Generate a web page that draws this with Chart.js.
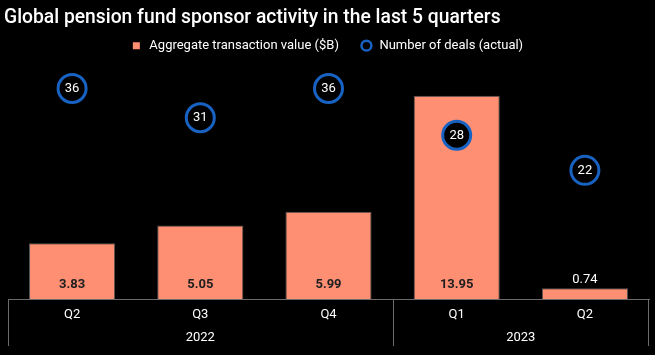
<!DOCTYPE html>
<html>
<head>
<meta charset="utf-8">
<script src="https://cdn.jsdelivr.net/npm/chart.js@4"></script>
<style>
  html, body { margin: 0; padding: 0; background: #000; }
  #wrap { width: 655px; height: 355px; }
</style>
</head>
<body>
<div id="wrap"><canvas id="c" width="655" height="355"></canvas></div>
<script>
const categories = ['Q2', 'Q3', 'Q4', 'Q1', 'Q2'];
const years = ['2022', '2022', '2022', '2023', '2023'];
const transactionValue = [3.83, 5.05, 5.99, 13.95, 0.74];
const dealCount = [36, 31, 36, 28, 22];
const seriesNames = ['Aggregate transaction value ($B)', 'Number of deals (actual)'];
const titleText = 'Global pension fund sponsor activity in the last 5 quarters';

const FONT = 'Roboto, "Liberation Sans", Arial, sans-serif';
const BAR_COLOR = '#FF8F73';
const RING_COLOR = '#1862C2';
const AXIS_COLOR = '#6b6b6b';

const labelPlugin = {
  id: 'valueLabels',
  afterDatasetsDraw(chart) {
    const ctx = chart.ctx;
    ctx.save();
    ctx.textAlign = 'center';
    ctx.textBaseline = 'middle';
    const barMeta = chart.getDatasetMeta(0);
    barMeta.data.forEach((bar, i) => {
      const v = chart.data.datasets[0].data[i];
      const h = bar.base - bar.y;
      const txt = v.toFixed(2);
      if (h > 26) {
        ctx.fillStyle = '#1e1e1e';
        ctx.font = 'bold 13px ' + FONT;
        ctx.fillText(txt, bar.x, bar.base - 14);
      } else {
        ctx.fillStyle = '#ffffff';
        ctx.font = '13px ' + FONT;
        ctx.fillText(txt, bar.x, bar.y - 8);
      }
    });
    const ptMeta = chart.getDatasetMeta(1);
    ptMeta.data.forEach((pt, i) => {
      ctx.fillStyle = '#ffffff';
      ctx.font = '13px ' + FONT;
      ctx.fillText(String(chart.data.datasets[1].data[i]), pt.x, pt.y + 0.5);
    });
    ctx.restore();
  }
};

const yearPlugin = {
  id: 'yearGroups',
  afterDraw(chart) {
    const ctx = chart.ctx;
    const xs = chart.scales.x;
    const area = chart.chartArea;
    const half = (xs.getPixelForValue(1) - xs.getPixelForValue(0)) / 2;
    const groups = [];
    years.forEach((y, i) => {
      if (!groups.length || groups[groups.length - 1].year !== y) groups.push({year: y, start: i, end: i});
      else groups[groups.length - 1].end = i;
    });
    ctx.save();
    ctx.strokeStyle = AXIS_COLOR;
    ctx.lineWidth = 1;
    const top = area.bottom;
    const bottom = area.bottom + 47;
    groups.forEach((g, gi) => {
      const left = xs.getPixelForValue(g.start) - half;
      const right = xs.getPixelForValue(g.end) + half;
      ctx.beginPath();
      ctx.moveTo(Math.round(left) + 0.5, top);
      ctx.lineTo(Math.round(left) + 0.5, bottom);
      if (gi === groups.length - 1) {
        ctx.moveTo(Math.round(right) - 0.5, top);
        ctx.lineTo(Math.round(right) - 0.5, bottom);
      }
      ctx.stroke();
      ctx.fillStyle = '#ffffff';
      ctx.font = '13px ' + FONT;
      ctx.textAlign = 'center';
      ctx.textBaseline = 'middle';
      ctx.fillText(g.year, (left + right) / 2, area.bottom + 39);
    });
    ctx.restore();
  }
};

new Chart(document.getElementById('c'), {
  data: {
    labels: categories,
    datasets: [
      {
        type: 'bar',
        label: seriesNames[0],
        data: transactionValue,
        yAxisID: 'y',
        backgroundColor: BAR_COLOR,
        borderColor: '#555555',
        borderWidth: 1,
        categoryPercentage: 1,
        barPercentage: 0.672,
        pointStyle: 'rect',
        order: 2
      },
      {
        type: 'line',
        label: seriesNames[1],
        data: dealCount,
        yAxisID: 'y2',
        showLine: false,
        pointRadius: 14,
        pointHoverRadius: 14,
        pointBorderWidth: 3,
        pointHoverBorderWidth: 3,
        pointBackgroundColor: '#000000',
        pointBorderColor: RING_COLOR,
        borderColor: RING_COLOR,
        backgroundColor: '#000000',
        pointStyle: 'circle',
        order: 1
      }
    ]
  },
  options: {
    responsive: false,
    animation: false,
    events: [],
    layout: { autoPadding: false, padding: { left: 4, right: 6, top: 0, bottom: 0 } },
    plugins: {
      tooltip: { enabled: false },
      title: {
        display: true,
        text: titleText,
        align: 'start',
        color: '#ffffff',
        font: { family: FONT, size: 19.3, weight: '500' },
        padding: { top: 7, bottom: -12 }
      },
      legend: {
        display: true,
        position: 'top',
        maxHeight: 47,
        labels: {
          color: '#ffffff',
          font: { family: FONT, size: 13 },
          usePointStyle: true,
          boxHeight: 7,
          padding: 21,
          sort: (a, b) => a.datasetIndex - b.datasetIndex,
          generateLabels(chart) {
            const items = Chart.defaults.plugins.legend.labels.generateLabels(chart);
            items.forEach((it) => {
              if (it.datasetIndex === 0) { it.fillStyle = BAR_COLOR; it.strokeStyle = BAR_COLOR; it.lineWidth = 0; it.pointStyle = 'rect'; }
              else { it.fillStyle = '#000000'; it.strokeStyle = RING_COLOR; it.lineWidth = 2.5; it.pointStyle = 'circle'; }
            });
            return items;
          }
        }
      }
    },
    scales: {
      x: {
        type: 'category',
        offset: true,
        grid: { display: false, drawTicks: false },
        border: { display: true, color: AXIS_COLOR, width: 1 },
        ticks: { color: '#ffffff', font: { family: FONT, size: 13 }, padding: 8, maxRotation: 0, autoSkip: false },
        afterFit(s) { s.height = 56; }
      },
      y: {
        position: 'left',
        min: 0,
        max: 16.25,
        display: true,
        grid: { display: false, drawTicks: false },
        border: { display: false },
        ticks: { display: false },
        afterFit(s) { s.width = 4; }
      },
      y2: {
        position: 'right',
        min: 0,
        max: 40.5,
        display: false
      }
    }
  },
  plugins: [labelPlugin, yearPlugin]
});
</script>
</body>
</html>
